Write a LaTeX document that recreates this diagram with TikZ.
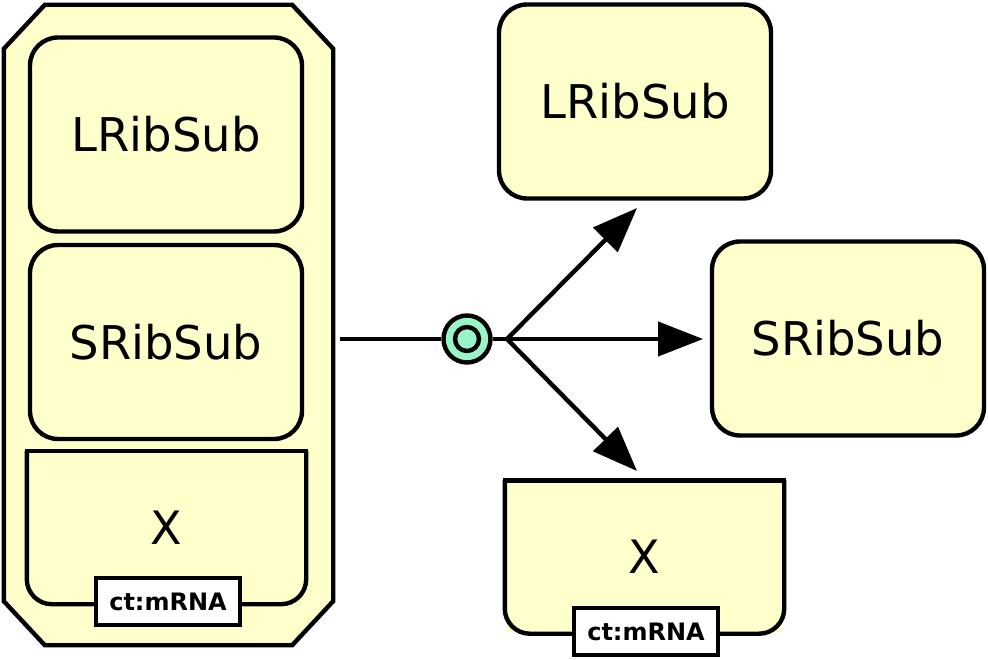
\documentclass[tikz,border=0pt]{standalone}
\usepackage{fontspec}
\setmainfont{DejaVu Sans}
\usetikzlibrary{arrows.meta,calc}
\definecolor{macfill}{HTML}{FFFFCC}
\definecolor{procfill}{HTML}{99F5C8}

\begin{document}
\begin{tikzpicture}[x=1pt,y=-1pt,line width=4.4pt,
    macro/.style={draw,fill=macfill,rounded corners=28pt,minimum width=272pt,minimum height=194pt,font=\fontsize{46.5}{50}\selectfont},
    nafeat/.style={fill=macfill,minimum width=275pt,minimum height=149pt,font=\fontsize{46}{50}\selectfont},
    unitinfo/.style={draw,fill=white,minimum width=144pt,minimum height=47pt,font=\fontsize{24}{28}\selectfont\bfseries},
    cplx/.style={minimum width=325pt,minimum height=636pt},
    arr/.style={-{Triangle[length=45pt,width=34pt]}}]
\useasboundingbox (0,0) rectangle (988,660);

% complex with its parts
\node[cplx] (cpx) at (168.5,325) {};
\filldraw[fill=macfill,line join=miter]
    ($(cpx.north west)+(41,0)$) -- ($(cpx.north east)+(-41,0)$) -- ($(cpx.north east)+(0,44)$)
    -- ($(cpx.south east)+(0,-44)$) -- ($(cpx.south east)+(-41,0)$) -- ($(cpx.south west)+(41,0)$)
    -- ($(cpx.south west)+(0,-44)$) -- ($(cpx.north west)+(0,44)$) -- cycle;
\node[macro] (lribA) at (166,134.5) {LRibSub};
\node[macro] (sribA) at (166,342) {SRibSub};
\node[nafeat] (xA) at (166.5,527.5) {X};
\draw[rounded corners=25pt] (xA.north west) -- (xA.south west) -- (xA.south east) -- (xA.north east);
\draw[line cap=rect] (xA.north west) -- (xA.north east);
\node[unitinfo] (ctA) at (168,601.5) {ct:mRNA};

% products
\node[macro] (lribB) at (635,101.5) {LRibSub};
\node[macro] (sribB) at (848,338.5) {SRibSub};
\node[nafeat] (xB) at (644.5,557) {X};
\draw[rounded corners=25pt] (xB.north west) -- (xB.south west) -- (xB.south east) -- (xB.north east);
\draw[line cap=rect] (xB.north west) -- (xB.north east);
\node[unitinfo] (ctB) at (646,631.5) {ct:mRNA};

% dissociation
\node[draw,circle,fill=procfill,minimum size=47pt,inner sep=0pt] (pr) at (467,339) {};
\node[draw,circle,fill=procfill,minimum size=24pt,inner sep=0pt] (prin) at (pr) {};
\coordinate (cin) at (340,339);
\coordinate (split) at (507,339);
\coordinate (tipL) at (637,208);
\coordinate (tipS) at (703,339);
\coordinate (tipX) at (637,471);
\draw (cin) -- (pr.west);
\draw (pr.east) -- (split);
\draw[arr] (split) -- (tipL);
\draw[arr] (split) -- (tipS);
\draw[arr] (split) -- (tipX);
\end{tikzpicture}
\end{document}
